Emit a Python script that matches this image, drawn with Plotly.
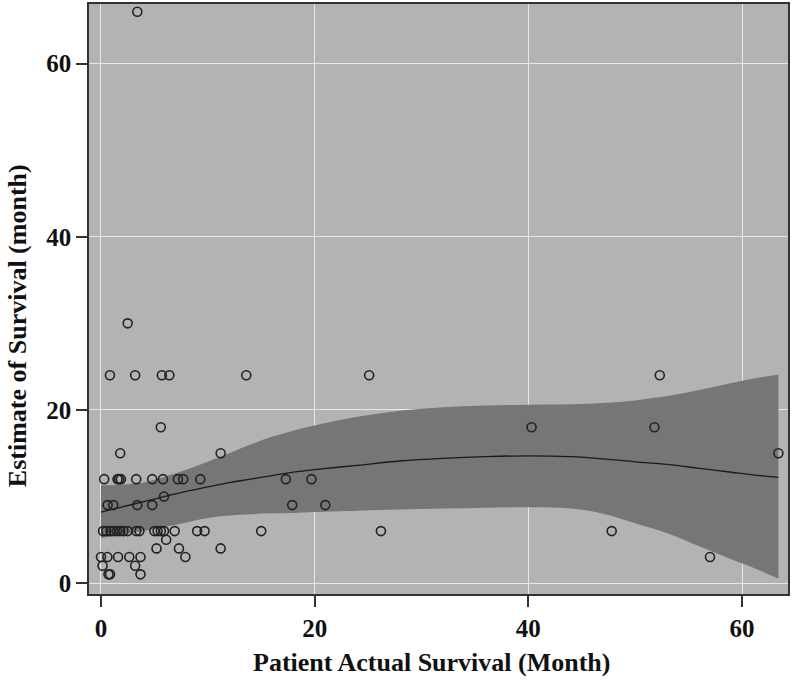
import plotly.graph_objects as go

# Scatter data (actual survival vs. estimate)
actual = [3.4, 2.5,
          0.84, 3.2, 5.7, 6.4, 13.6, 25.1, 52.3,
          5.6, 40.3, 51.8,
          1.8, 11.2, 63.4,
          0.3, 1.55, 1.7, 1.87, 3.3, 4.8, 5.8, 7.2, 7.7, 9.3, 17.3, 19.7,
          5.9,
          0.62, 1.15, 3.4, 4.8, 17.9, 21.0,
          0.2, 0.5, 0.9, 1.2, 1.5, 1.8, 2.1, 2.5, 3.3, 3.6, 5.0, 5.3, 5.6, 5.9, 6.9, 9.0, 9.7, 15.0, 26.2, 47.8,
          6.1,
          5.2, 7.3, 11.2,
          0.0, 0.6, 1.6, 2.65, 3.7, 7.9, 57.0,
          0.15, 3.2,
          0.7, 0.85, 3.7]
estimate = [66, 30,
            24, 24, 24, 24, 24, 24, 24,
            18, 18, 18,
            15, 15, 15,
            12, 12, 12, 12, 12, 12, 12, 12, 12, 12, 12, 12,
            10,
            9, 9, 9, 9, 9, 9,
            6, 6, 6, 6, 6, 6, 6, 6, 6, 6, 6, 6, 6, 6, 6, 6, 6, 6, 6, 6,
            5,
            4, 4, 4,
            3, 3, 3, 3, 3, 3, 3,
            2, 2,
            1, 1, 1]

# Smoothed fit and confidence band
fit_x = [0, 2, 4, 6, 8, 10, 12, 14, 16, 18, 20, 24, 28, 32, 36, 40, 44, 47, 50, 53, 56, 59, 61, 63.4]
fit_y = [8.2, 8.8, 9.4, 10.0, 10.6, 11.1, 11.6, 12.0, 12.4, 12.8, 13.1, 13.6, 14.1, 14.4, 14.6, 14.7,
         14.6, 14.35, 14.0, 13.7, 13.25, 12.8, 12.5, 12.2]
fit_upper = [11.3, 11.35, 11.6, 12.3, 13.1, 14.0, 15.0, 16.0, 16.9, 17.6, 18.2, 19.2, 19.9, 20.3, 20.5,
             20.6, 20.65, 20.8, 21.1, 21.6, 22.3, 23.1, 23.6, 24.1]
fit_lower = [5.2, 5.6, 6.0, 6.5, 7.0, 7.5, 7.8, 7.95, 8.05, 8.1, 8.2, 8.35, 8.5, 8.6, 8.7, 8.75,
             8.6, 8.0, 6.9, 5.75, 4.25, 2.75, 1.8, 0.5]

tick_vals = [0, 20, 40, 60]

fig = go.Figure()
fig.add_trace(go.Scatter(x=fit_x, y=fit_lower, mode="lines", line=dict(width=0, shape="spline"),
                         hoverinfo="skip", showlegend=False))
fig.add_trace(go.Scatter(x=fit_x, y=fit_upper, mode="lines", line=dict(width=0, shape="spline"),
                         fill="tonexty", fillcolor="#767676", hoverinfo="skip", showlegend=False))
fig.add_trace(go.Scatter(x=fit_x, y=fit_y, mode="lines", line=dict(color="#1a1a1a", width=1.3, shape="spline"),
                         showlegend=False))
fig.add_trace(go.Scatter(x=actual, y=estimate, mode="markers",
                         marker=dict(symbol="circle-open", size=9, color="#222222",
                                     line=dict(width=1.6, color="#222222")),
                         showlegend=False))

font_title = dict(family="Liberation Serif", size=26, color="#111111")
axis_common = dict(
    tickvals=tick_vals, ticks="outside", ticklen=11, tickwidth=1.5, tickcolor="#333333",
    showgrid=True, gridcolor="#e8e8e8", gridwidth=1.3, zeroline=False,
    showline=True, linecolor="#333333", linewidth=1.5, mirror=True,
    tickfont=dict(family="Liberation Serif", size=25, color="#111111", weight="bold"),
)

fig.update_layout(
    width=792, height=681,
    margin=dict(l=89, r=4, t=4, b=87, autoexpand=False),
    paper_bgcolor="white", plot_bgcolor="#b3b3b3",
    xaxis=dict(range=[-1.12, 64.3], **axis_common),
    yaxis=dict(range=[-1.27, 66.9], **axis_common),
    annotations=[
        dict(text="<b>Patient Actual Survival (Month)</b>", font=font_title, showarrow=False,
             xref="paper", yref="paper", x=0.4907, y=-0.1153, xanchor="center", yanchor="middle"),
        dict(text="<b>Estimate of Survival (month)</b>", font=font_title, showarrow=False,
             textangle=-90, xref="paper", yref="paper", x=-0.103, y=0.454,
             xanchor="center", yanchor="middle"),
    ],
)

fig.write_html("out.html", config={"displayModeBar": False})

# remove default page margin so the figure sits at the window's top-left corner
with open("out.html", "r", encoding="utf-8") as f:
    html = f.read()
html = html.replace("<head>", "<head><style>html,body{margin:0;padding:0;overflow:hidden;}</style>", 1)
with open("out.html", "w", encoding="utf-8") as f:
    f.write(html)
